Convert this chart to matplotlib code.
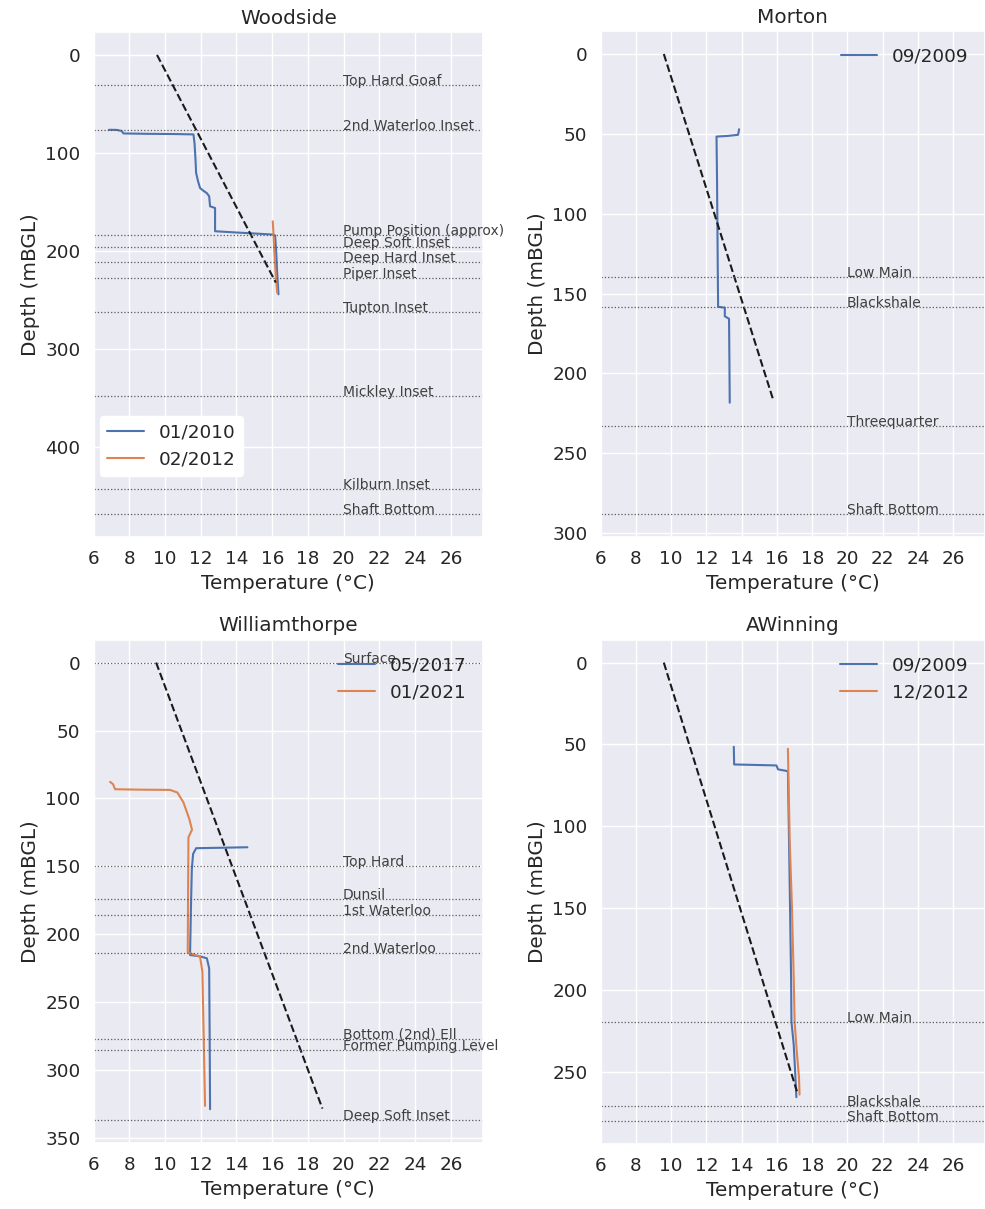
import matplotlib
matplotlib.use('Agg')
import matplotlib.pyplot as plt
import seaborn as sns

sns.set_theme(style='darkgrid', font_scale=1.2)

# ---- Woodside ----
wood_2010_t = [6.86, 7.3, 7.57, 7.67, 9.0, 10.5, 11.59, 11.65, 11.7, 11.74, 11.85, 11.96, 12.15,
               12.33, 12.47, 12.52, 12.8, 12.8, 14.0, 15.0, 16.03, 16.16, 16.22, 16.27, 16.32, 16.35]
wood_2010_d = [76.3, 76.4, 77.5, 80.0, 80.4, 80.6, 81.0, 90, 105, 120.4, 129, 135.6, 138.5,
               140.7, 144, 154.3, 156, 179.7, 181, 182, 183.1, 184, 200, 220, 235, 244]
wood_2012_t = [16.03, 16.07, 16.1, 16.15, 16.2, 16.28]
wood_2012_d = [169.6, 182, 195, 210, 225.5, 242.4]
wood_grad_t = [9.55, 16.2]
wood_grad_d = [0, 232]
wood_seams = ['Top Hard Goaf', '2nd Waterloo Inset', 'Pump Position (approx)', 'Deep Soft Inset',
              'Deep Hard Inset', 'Piper Inset', 'Tupton Inset', 'Mickley Inset', 'Kilburn Inset',
              'Shaft Bottom']
wood_seam_d = [30.5, 77, 184, 195.6, 211, 227, 262, 347.6, 442.5, 468]

# ---- Morton ----
mort_2009_t = [13.85, 13.82, 13.79, 13.2, 12.57, 12.6, 12.63, 12.66, 13.04, 13.04, 13.28, 13.3, 13.32]
mort_2009_d = [47.1, 49.0, 50.6, 51.3, 51.7, 80, 120, 158.3, 158.8, 164.2, 165.8, 190, 218.3]
mort_grad_t = [9.58, 15.77]
mort_grad_d = [0, 216]
mort_seams = ['Low Main', 'Blackshale', 'Threequarter', 'Shaft Bottom']
mort_seam_d = [139.8, 158.3, 233, 288]

# ---- Williamthorpe ----
will_2017_t = [14.61, 13.0, 11.74, 11.57, 11.5, 11.45, 11.4, 11.96, 12.34, 12.47, 12.5, 12.52]
will_2017_d = [135.9, 136.3, 136.6, 140.8, 151.8, 180, 215.2, 216.2, 217.6, 225, 280, 328.7]
will_2021_t = [6.92, 7.09, 7.2, 8.5, 10.28, 10.69, 11.03, 11.36, 11.51, 11.31, 11.29, 11.27,
               11.96, 12.09, 12.17, 12.24]
will_2021_d = [87.8, 89.5, 93.2, 93.5, 93.7, 95.6, 102.9, 115.2, 123, 128.6, 170, 213.3,
               216.4, 227.4, 280, 326.2]
will_grad_t = [9.5, 18.81]
will_grad_d = [0, 328.2]
will_seams = ['Surface', 'Top Hard', 'Dunsil', '1st Waterloo', '2nd Waterloo', 'Bottom (2nd) Ell',
              'Former Pumping Level', 'Deep Soft Inset']
will_seam_d = [0, 150, 174.2, 186, 213.5, 277, 285, 336.7]

# ---- AWinning ----
awin_2009_t = [13.55, 13.57, 14.8, 15.97, 16.06, 16.62, 16.7, 16.8, 16.82, 16.95, 17.03, 17.1]
awin_2009_d = [51.4, 62.2, 62.5, 62.8, 65.2, 66.3, 120, 193, 219.2, 233.4, 250, 265.4]
awin_2012_t = [16.62, 16.67, 16.72, 16.85, 16.95, 17.0, 17.12, 17.25, 17.28]
awin_2012_d = [52.6, 80, 107.8, 150, 193, 219.2, 237, 253.7, 263.8]
awin_grad_t = [9.58, 17.13]
awin_grad_d = [0, 261.8]
awin_seams = ['Low Main', 'Blackshale', 'Shaft Bottom']
awin_seam_d = [219.6, 270.5, 280]

xticks = list(range(6, 27, 2))

W, H = 985, 1209
fig = plt.figure(figsize=(W / 100, H / 100), dpi=100)


def rect(l, r, t, b):
    return [l / W, 1 - b / H, (r - l) / W, (b - t) / H]


def panel(ax, title, surveys, gt, gd, seams, seam_d):
    for lab, t, d in surveys:
        ax.plot(t, d, label=lab, lw=1.5)
    ax.plot(gt, gd, 'k--', lw=1.5)
    for name, d in zip(seams, seam_d):
        ax.axhline(d, color='0.35', ls=':', lw=0.9)
        ax.text(19.95, d, name, fontsize=10, color='0.25')
    dmax = max(seam_d)
    ax.set_ylim(dmax * 1.05, -dmax * 0.05)
    ax.set_xlim(6, 27.8)
    ax.set_xticks(xticks)
    ax.set_title(title)
    ax.set_xlabel('Temperature (°C)')
    ax.set_ylabel('Depth (mBGL)')


ax1 = fig.add_axes(rect(93.6, 483, 32, 537))
panel(ax1, 'Woodside', [('01/2010', wood_2010_t, wood_2010_d), ('02/2012', wood_2012_t, wood_2012_d)],
      wood_grad_t, wood_grad_d, wood_seams, wood_seam_d)
ax1.legend(loc='lower left', bbox_to_anchor=(0.016, 0.121), borderaxespad=0,
           facecolor='white', framealpha=1, edgecolor='white')

ax2 = fig.add_axes(rect(600.7, 985, 31, 537))
panel(ax2, 'Morton', [('09/2009', mort_2009_t, mort_2009_d)],
      mort_grad_t, mort_grad_d, mort_seams, mort_seam_d)
ax2.legend(loc='upper right', frameon=False)

ax3 = fig.add_axes(rect(93.6, 483, 639.7, 1143))
panel(ax3, 'Williamthorpe', [('05/2017', will_2017_t, will_2017_d), ('01/2021', will_2021_t, will_2021_d)],
      will_grad_t, will_grad_d, will_seams, will_seam_d)
ax3.legend(loc='upper right', frameon=False)

ax4 = fig.add_axes(rect(600.7, 985, 639.7, 1144))
panel(ax4, 'AWinning', [('09/2009', awin_2009_t, awin_2009_d), ('12/2012', awin_2012_t, awin_2012_d)],
      awin_grad_t, awin_grad_d, awin_seams, awin_seam_d)
ax4.legend(loc='upper right', frameon=False)

fig.savefig('out.png', dpi=100)
